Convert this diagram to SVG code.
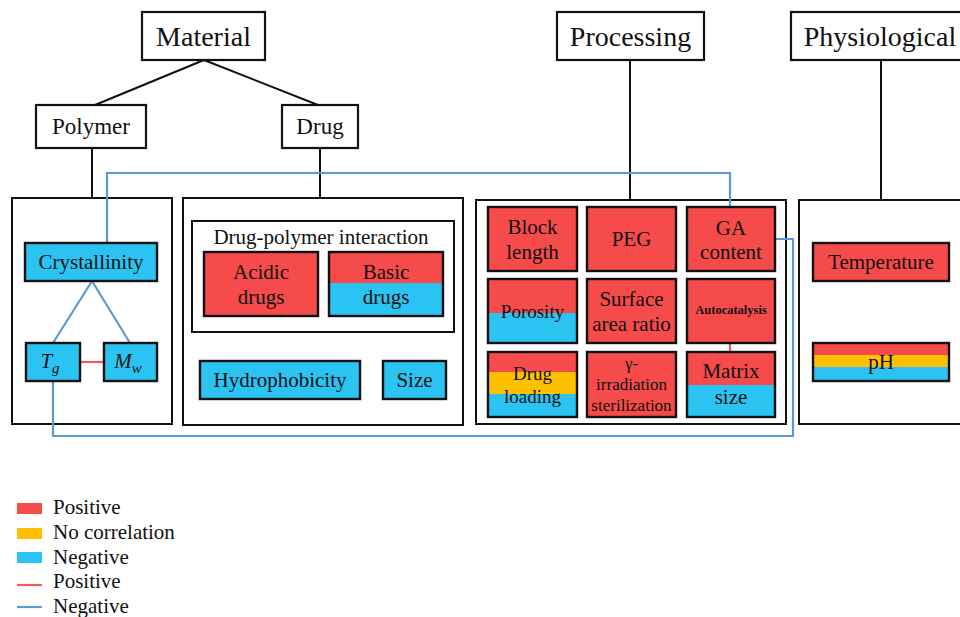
<svg xmlns="http://www.w3.org/2000/svg" width="960" height="617" viewBox="0 0 960 617">
<style>
text{font-family:"Liberation Serif","Times New Roman",serif;fill:#111;text-anchor:middle}
.hdr{fill:#fff;stroke:#111;stroke-width:2.2}
.panel{fill:#fff;stroke:#111;stroke-width:2}
.box{stroke:#111;stroke-width:2.4}
.r{fill:#F54B4B}
.b{fill:#2BC4F2}
.y{fill:#FFC000}
.tree{stroke:#111;stroke-width:2;fill:none}
.neg{stroke:#5B9BD5;stroke-width:2.2;fill:none}
.pos{stroke:#F05A5A;stroke-width:2.2;fill:none}
.t26{font-size:28px}.t22{font-size:23px}.t20{font-size:21px}.t18{font-size:19px}.t16{font-size:17px}
.leg{font-size:21px;text-anchor:start}
</style>
<g font-family="Liberation Serif, Times New Roman, serif">
<g id="tree-connectors">
<path class="tree" d="M204 60 L95 105 M204 60 L318 105 M92 148 V198 M320 148 V198 M630 60 V200 M881 60 V200"/>
</g>

<g id="material"><rect class="hdr" x="142" y="12" width="123" height="48"/><text class="t26" x="203.5" y="46">Material</text></g>
<g id="polymer"><rect class="hdr" x="36" y="105" width="110" height="43"/><text class="t22" x="91" y="134">Polymer</text></g>
<g id="drug"><rect class="hdr" x="282" y="105" width="76" height="43"/><text class="t22" x="320" y="134">Drug</text></g>
<g id="processing"><rect class="hdr" x="557" y="12" width="147" height="48"/><text class="t26" x="630.5" y="46">Processing</text></g>
<g id="physiological"><rect class="hdr" x="791" y="12" width="180" height="48"/><text class="t26" x="880" y="46">Physiological</text></g>

<g id="polymer-panel"><rect class="panel" x="12" y="198" width="160" height="226"/></g>
<g id="drug-panel"><rect class="panel" x="183" y="198" width="280" height="227"/></g>
<g id="processing-panel"><rect class="panel" x="476" y="200" width="310" height="224"/></g>
<g id="physiological-panel"><rect class="panel" x="799" y="200" width="175" height="224"/></g>

<g id="connectors">
<path class="neg" d="M107 243 V173 H730 V207"/>
<path class="neg" d="M775 239 H793 V436 H53 V381"/>
<path class="neg" d="M92 281 L53 343 M92 281 L130 343"/>
<path class="pos" d="M80 362 H104"/>
<path class="pos" d="M730 343 V352"/>
</g>

<g id="crystallinity"><rect class="box b" x="25" y="243" width="132" height="38"/><text class="t20" x="91" y="269">Crystallinity</text></g>
<g id="tg"><rect class="box b" x="26" y="343" width="54" height="38"/><text class="t20" x="50" y="368" font-style="italic">T<tspan font-size="15" dy="5">g</tspan></text></g>
<g id="mw"><rect class="box b" x="104" y="343" width="53" height="38"/><text class="t20" x="128" y="368" font-style="italic">M<tspan font-size="15" dy="5">w</tspan></text></g>

<g id="drug-polymer-interaction"><rect class="panel" x="192" y="221" width="262" height="111" stroke-width="2.2"/><text class="t20" x="321" y="244">Drug-polymer interaction</text></g>
<g id="acidic-drugs"><rect class="box r" x="204" y="252" width="114" height="64"/><text class="t20" x="261" y="279">Acidic</text><text class="t20" x="261" y="304">drugs</text></g>
<g id="basic-drugs"><rect class="r" x="329" y="252" width="114" height="32"/><rect class="b" x="329" y="283" width="114" height="33"/><rect class="box" fill="none" x="329" y="252" width="114" height="64"/><text class="t20" x="386" y="279">Basic</text><text class="t20" x="386" y="304">drugs</text></g>
<g id="hydrophobicity"><rect class="box b" x="200" y="361" width="160" height="38"/><text class="t20" x="280" y="387">Hydrophobicity</text></g>
<g id="size"><rect class="box b" x="383" y="361" width="63" height="38"/><text class="t20" x="414.5" y="387">Size</text></g>

<g id="block-length"><rect class="box r" x="488" y="207" width="89" height="64"/><text class="t20" x="532.5" y="234">Block</text><text class="t20" x="532.5" y="259">length</text></g>
<g id="peg"><rect class="box r" x="587" y="207" width="89" height="64"/><text class="t20" x="631.5" y="246">PEG</text></g>
<g id="ga-content"><rect class="box r" x="687" y="207" width="88" height="64"/><text class="t20" x="731" y="235">GA</text><text class="t20" x="731" y="259">content</text></g>

<g id="porosity"><rect class="r" x="488" y="279" width="89" height="35"/><rect class="b" x="488" y="313" width="89" height="30"/><rect class="box" fill="none" x="488" y="279" width="89" height="64"/><text class="t18" x="532.5" y="318">Porosity</text></g>
<g id="surface-area-ratio"><rect class="box r" x="587" y="279" width="89" height="64"/><text class="t20" x="631.5" y="306">Surface</text><text class="t20" x="631.5" y="331">area ratio</text></g>
<g id="autocatalysis"><rect class="box r" x="687" y="279" width="88" height="64"/><text x="731" y="314" font-size="12.5" font-weight="bold">Autocatalysis</text></g>

<g id="drug-loading"><rect class="r" x="488" y="352" width="89" height="21"/><rect class="y" x="488" y="372" width="89" height="23"/><rect class="b" x="488" y="394" width="89" height="23"/><rect class="box" fill="none" x="488" y="352" width="89" height="65"/><text class="t18" x="532.5" y="380">Drug</text><text class="t18" x="532.5" y="403">loading</text></g>
<g id="gamma-irradiation"><rect class="box r" x="587" y="352" width="89" height="65"/><text class="t16" x="631.5" y="369">γ-</text><text class="t16" x="631.5" y="390">irradiation</text><text class="t16" x="631.5" y="411">sterilization</text></g>
<g id="matrix-size"><rect class="r" x="687" y="352" width="88" height="34"/><rect class="b" x="687" y="385" width="88" height="32"/><rect class="box" fill="none" x="687" y="352" width="88" height="65"/><text class="t20" x="731" y="378">Matrix</text><text class="t20" x="731" y="404">size</text></g>

<g id="temperature"><rect class="box r" x="813" y="243" width="136" height="38"/><text class="t20" x="881" y="269">Temperature</text></g>
<g id="ph"><rect class="r" x="813" y="343" width="136" height="13"/><rect class="y" x="813" y="355" width="136" height="13"/><rect class="b" x="813" y="367" width="136" height="14"/><rect class="box" fill="none" x="813" y="343" width="136" height="38"/><text class="t20" x="881" y="369">pH</text></g>

<g id="legend">
<rect class="r" x="17" y="503" width="25" height="11"/><text class="leg" x="53" y="514">Positive</text>
<rect class="y" x="17" y="528" width="25" height="11"/><text class="leg" x="53" y="539">No correlation</text>
<rect class="b" x="17" y="552" width="25" height="11"/><text class="leg" x="53" y="564">Negative</text>
<line class="pos" x1="17" y1="585" x2="42" y2="585"/><text class="leg" x="53" y="588">Positive</text>
<line class="neg" x1="17" y1="607" x2="42" y2="607"/><text class="leg" x="53" y="613">Negative</text>
</g>
</g>
</svg>
